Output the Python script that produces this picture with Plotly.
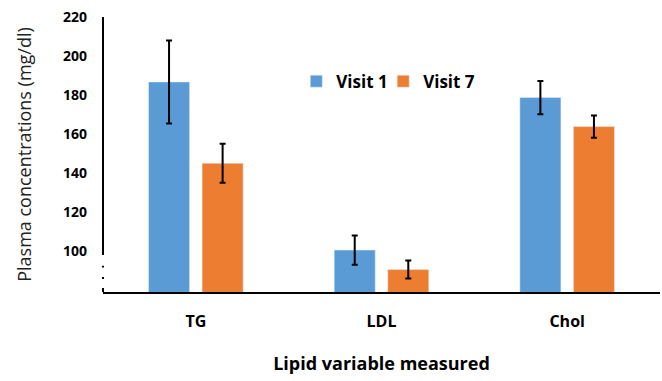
import plotly.graph_objects as go

categories = ["TG", "LDL", "Chol"]
visit1 = [186.7, 100.5, 178.7]
visit1_err = [21.3, 7.5, 8.5]
visit7 = [145.0, 90.5, 163.8]
visit7_err = [10.0, 4.6, 5.7]
y_ticks = [100, 120, 140, 160, 180, 200, 220]

BLUE = "#5B9BD5"
ORANGE = "#ED7D31"
FONT = "Open Sans"

fig = go.Figure()
fig.add_trace(go.Bar(
    name="Visit 1", x=categories, y=visit1, marker_color=BLUE, legend="legend",
    error_y=dict(type="data", array=visit1_err, color="black", thickness=2, width=3),
))
fig.add_trace(go.Bar(
    name="Visit 7", x=categories, y=visit7, marker_color=ORANGE, legend="legend2",
    error_y=dict(type="data", array=visit7_err, color="black", thickness=2, width=3),
))

ymin, ymax = 79, 220

legend_style = dict(
    orientation="h", y=0.765, xanchor="left", yanchor="middle",
    font=dict(family=FONT, size=17, color="black", weight="bold"),
    itemwidth=30, bgcolor="rgba(0,0,0,0)",
)

fig.update_layout(
    width=662, height=381,
    margin=dict(l=103, r=2, t=17, b=89),
    plot_bgcolor="white", paper_bgcolor="white",
    barmode="group", bargap=0.423, bargroupgap=0.234,
    font=dict(family=FONT, color="black"),
    showlegend=True,
    legend=dict(x=0.347, **legend_style),
    legend2=dict(x=0.503, **legend_style),
    xaxis=dict(
        showline=True, linecolor="black", linewidth=2, ticks="",
        ticklabelstandoff=14,
        tickfont=dict(family=FONT, size=16, weight="bold"),
        title=dict(text="Lipid variable measured", standoff=26,
                   font=dict(family=FONT, size=18, weight="bold")),
    ),
    yaxis=dict(
        range=[ymin, ymax], tickvals=y_ticks, showgrid=False, showline=False,
        zeroline=False, ticks="", ticklabelstandoff=15,
        tickfont=dict(family=FONT, size=14, weight="bold"),
        title=dict(text="Plasma concentrations (mg/dl)", standoff=26,
                   font=dict(family=FONT, size=18, color="#222222")),
    ),
)

# y axis line with break marks
fig.add_shape(type="line", xref="paper", yref="y", x0=0, x1=0, y0=98, y1=ymax,
              line=dict(color="black", width=2))
for a, b in [(91.5, 92.5), (85.7, 86.7), (ymin, 81)]:
    fig.add_shape(type="line", xref="paper", yref="y", x0=0, x1=0, y0=a, y1=b,
                  line=dict(color="black", width=2))

fig.write_html("out.html")
